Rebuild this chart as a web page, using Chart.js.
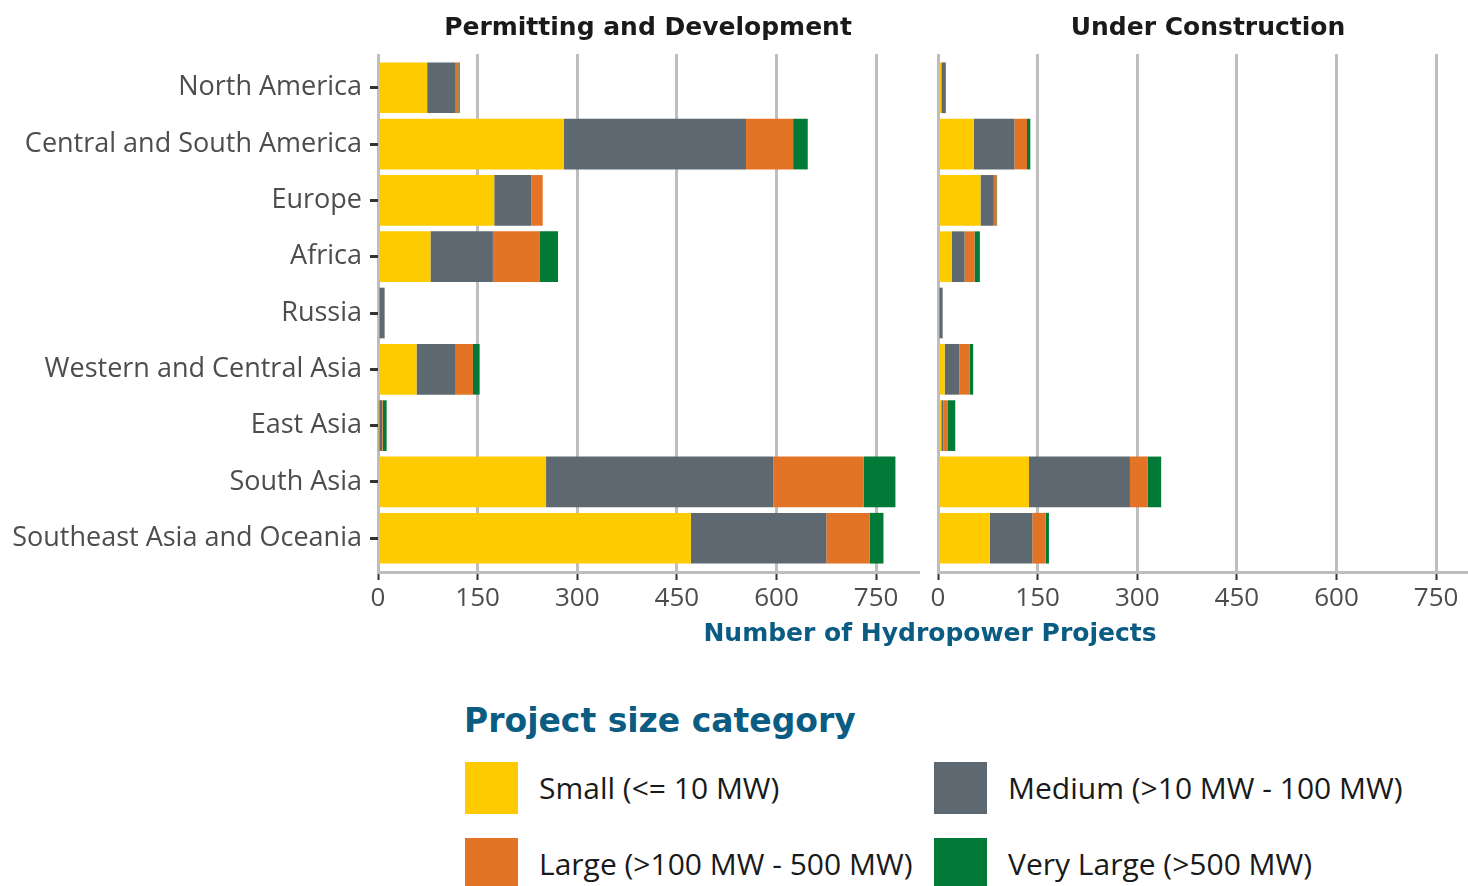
<!DOCTYPE html>
<html lang="en">
	<head>
		<meta charset="utf-8">
		<title>Hydropower projects by region and size</title>
		<script src="https://cdnjs.cloudflare.com/ajax/libs/Chart.js/4.4.1/chart.umd.min.js"></script>
		<style>
			html, body { margin: 0; padding: 0; background: #fff; overflow: hidden; width: 1468px; height: 886px; }
			canvas { position: absolute; top: 0; }
			#left { left: 0; }
			#right { left: 920px; }
			.axis-title { position: absolute; left: 0; width: 1860px; top: 618px; text-align: center; font: bold 25px "DejaVu Sans", sans-serif; color: #0b5c82; }
			.legend-title { position: absolute; left: 464px; top: 701px; font: bold 33px "DejaVu Sans", sans-serif; color: #0b5c82; white-space: nowrap; }
			.key { position: absolute; width: 53px; height: 52px; }
			.key-label { position: absolute; font: 30px "Open Sans", sans-serif; color: #1a1a1a; white-space: nowrap; line-height: 40px; }
		</style>
	</head>
	<body>
		<canvas id="left" width="930" height="620"></canvas>
		<canvas id="right" width="570" height="620"></canvas>
		<div class="axis-title">Number of Hydropower Projects</div>

		<div class="legend-title">Project size category</div>
		<div class="key" style="left:465px; top:762px; background:#fdcb00"></div>
		<div class="key-label" style="left:539px; top:768px">Small (&lt;= 10 MW)</div>
		<div class="key" style="left:934px; top:762px; background:#5d6870"></div>
		<div class="key-label" style="left:1008px; top:768px">Medium (&gt;10 MW - 100 MW)</div>
		<div class="key" style="left:465px; top:838px; background:#e37425"></div>
		<div class="key-label" style="left:539px; top:844px">Large (&gt;100 MW - 500 MW)</div>
		<div class="key" style="left:934px; top:838px; background:#007a36"></div>
		<div class="key-label" style="left:1008px; top:844px">Very Large (&gt;500 MW)</div>

		<script>
			const regions = ["North America", "Central and South America", "Europe", "Africa", "Russia",
				"Western and Central Asia", "East Asia", "South Asia", "Southeast Asia and Oceania"]

			const sizeNames = ["Small (<= 10 MW)", "Medium (>10 MW - 100 MW)", "Large (>100 MW - 500 MW)", "Very Large (>500 MW)"]
			const sizeColors = ["#fdcb00", "#5d6870", "#e37425", "#007a36"]

			// Permitting and Development
			const devSmall     = [74, 280, 175, 79, 0, 58, 1, 253, 471]
			const devMedium    = [43, 274, 56, 94, 10, 59, 5, 342, 204]
			const devLarge     = [4, 71, 17, 70, 0, 26, 1, 136, 65]
			const devVeryLarge = [2, 22, 0, 28, 0, 10, 6, 48, 21]

			// Under Construction
			const conSmall     = [5, 54, 64, 21, 2, 10, 5, 137, 78]
			const conMedium    = [6, 61, 20, 19, 5, 22, 3, 152, 64]
			const conLarge     = [0, 19, 4, 15, 0, 16, 7, 27, 20]
			const conVeryLarge = [1, 5, 1, 8, 0, 5, 11, 20, 5]

			const xTicks = [0, 150, 300, 450, 600, 750]
			const xMax = 813

			const stripTitle = {
				id: "stripTitle",
				afterDraw(chart, args, opts) {
					const {ctx, chartArea} = chart
					ctx.save()
					ctx.font = "bold 25px 'DejaVu Sans', sans-serif"
					ctx.fillStyle = "#1a1a1a"
					ctx.textAlign = "center"
					ctx.textBaseline = "middle"
					ctx.fillText(opts.text, (chartArea.left + chartArea.right) / 2, 28)
					ctx.restore()
				}
			}

			function makeDatasets(series) {
				return series.map((values, k) => ({
					label: sizeNames[k],
					data: values.map((v, i) => ({x: v, y: i + 1})),
					backgroundColor: sizeColors[k],
					borderWidth: 0,
					barPercentage: 0.9,
					categoryPercentage: 1.0
				}))
			}

			function makeChart(id, series, title, showLabels, padLeft, padRight) {
				return new Chart(document.getElementById(id), {
					type: "bar",
					data: {datasets: makeDatasets(series)},
					plugins: [stripTitle],
					options: {
						indexAxis: "y",
						responsive: false,
						animation: false,
						layout: {padding: {top: 54, left: padLeft, right: padRight, bottom: 0}},
						plugins: {
							legend: {display: false},
							tooltip: {enabled: false},
							stripTitle: {text: title}
						},
						scales: {
							x: {
								type: "linear",
								stacked: true,
								min: 0,
								max: xMax,
								afterBuildTicks: scale => { scale.ticks = xTicks.map(v => ({value: v})) },
								afterFit: scale => { scale.height = 48 },
								grid: {color: "#bebebe", lineWidth: 3, tickColor: "#333333", tickWidth: 2, tickLength: 8},
								border: {display: true, color: "#bebebe", width: 3},
								ticks: {color: "#4d4d4d", font: {family: "'Open Sans', sans-serif", size: 26}, padding: 3, maxRotation: 0}
							},
							y: {
								type: "linear",
								stacked: true,
								reverse: true,
								offset: false,
								min: 0.4,
								max: 9.6,
								display: showLabels,
								afterFit: scale => { if (showLabels) scale.width = 378 },
								grid: {offset: false, drawOnChartArea: false, tickColor: "#333333", tickWidth: 3, tickLength: 8},
								border: {display: false},
								ticks: {
									stepSize: 1,
									includeBounds: false,
									autoSkip: false,
									padding: 8,
									color: "#4d4d4d",
									font: {family: "'Open Sans', sans-serif", size: 27},
									callback: v => regions[v - 1] || ""
								}
							}
						}
					}
				})
			}

			makeChart("left", [devSmall, devMedium, devLarge, devVeryLarge], "Permitting and Development", true, 0, 12)
			makeChart("right", [conSmall, conMedium, conLarge, conVeryLarge], "Under Construction", false, 18, 12)
		</script>
	</body>
</html>
